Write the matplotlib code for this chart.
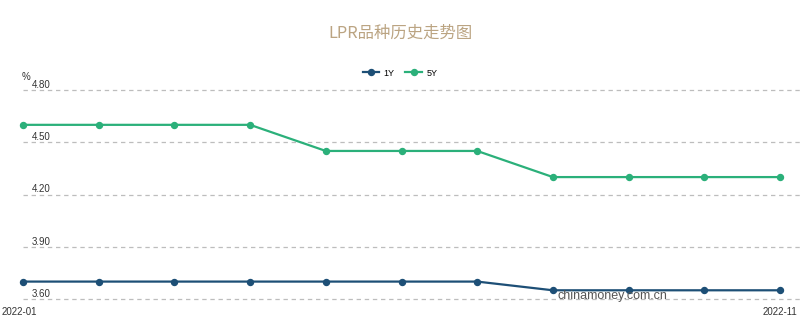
"""LPR history chart (1Y / 5Y), 2022-01 to 2022-11."""

import matplotlib.pyplot as plt
from matplotlib import transforms

months = ["2022-01", "2022-02", "2022-03", "2022-04", "2022-05", "2022-06",
          "2022-07", "2022-08", "2022-09", "2022-10", "2022-11"]
lpr_1y = [3.70, 3.70, 3.70, 3.70, 3.70, 3.70, 3.70, 3.65, 3.65, 3.65, 3.65]
lpr_5y = [4.60, 4.60, 4.60, 4.60, 4.45, 4.45, 4.45, 4.30, 4.30, 4.30, 4.30]
y_ticks = [3.60, 3.90, 4.20, 4.50, 4.80]

COLOR_1Y = "#1d4f76"
COLOR_5Y = "#2bb07a"
LABEL_FONT = ["Liberation Sans", "DejaVu Sans"]

W, H = 800, 321
fig = plt.figure(figsize=(W / 100, H / 100), dpi=100)

# axes spans from first point (x=23) to the right edge; y from 3.60 to 4.80
x0, x_last = 23, 780
ax = fig.add_axes([x0 / W, 1 - 299 / H, (W - x0) / W, (299 - 90) / H])
n = len(months)
ax.set_xlim(0, (n - 1) * (W - x0) / (x_last - x0))
ax.set_ylim(y_ticks[0], y_ticks[-1])

xs = list(range(n))
l1, = ax.plot(xs, lpr_1y, color=COLOR_1Y, lw=1.6, marker="o", ms=4.3,
              label="1Y", clip_on=False, zorder=3)
l5, = ax.plot(xs, lpr_5y, color=COLOR_5Y, lw=1.6, marker="o", ms=4.3,
              label="5Y", clip_on=False, zorder=3)

label_tf = transforms.blended_transform_factory(ax.transAxes, ax.transData)
for y in y_ticks:
    ax.axhline(y, color="#bdbdbd", lw=0.9, ls=(0, (3.5, 3)), zorder=1,
               clip_on=False)
    ax.text(0.0115, y, f"{y:.2f}", transform=label_tf,
            ha="left", va="bottom", fontsize=7, color="#333333",
            family=LABEL_FONT)

for side in ax.spines.values():
    side.set_visible(False)
ax.set_xticks([])
ax.set_yticks([])

fig.text(22 / W, 1 - 77 / H, "%", fontsize=7, color="#333333",
         family=LABEL_FONT, ha="left", va="center")
fig.text(2 / W, 1 - 312 / H, months[0], fontsize=7, color="#333333",
         family=LABEL_FONT, ha="left", va="center")
fig.text(797 / W, 1 - 312 / H, months[-1], fontsize=7, color="#333333",
         family=LABEL_FONT, ha="right", va="center")

fig.text(0.5, 1 - 33 / H, "LPR品种历史走势图", fontsize=11.8,
         color="#bba482", ha="center", va="center",
         family=["Noto Sans CJK SC", "DejaVu Sans"])

fig.text(557 / W, 1 - 296 / H, "chinamoney.com.cn", fontsize=9,
         color="#555555", ha="left", va="center", family=LABEL_FONT,
         zorder=5)

fig.legend(handles=[l1, l5], loc="center", bbox_to_anchor=(0.5, 1 - 73 / H),
           ncol=2, frameon=False, handlelength=1.8,
           handletextpad=0.5, columnspacing=1.2,
           prop={"family": LABEL_FONT, "size": 6.5})

fig.savefig("out.png", dpi=100)
